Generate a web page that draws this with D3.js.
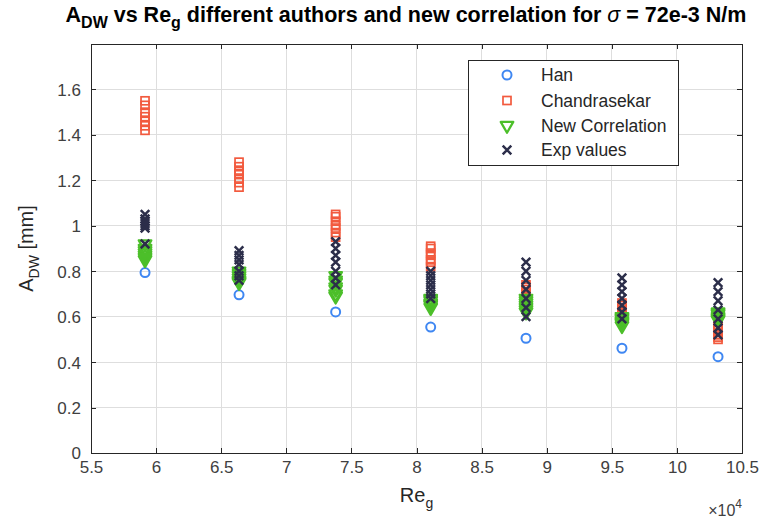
<!DOCTYPE html>
<html>
<head>
<meta charset="utf-8">
<script src="https://cdn.jsdelivr.net/npm/d3@7"></script>
<style>
  html, body { margin: 0; padding: 0; background: #fff; }
  svg { display: block; font-family: "Liberation Sans", Arial, Helvetica, sans-serif; }
</style>
</head>
<body>
<svg id="chart" width="774" height="526"></svg>
<script>
// Gas Reynolds numbers of the seven test points
const reG = [59150, 66370, 73790, 81090, 88410, 95780, 103160];

// Disturbance-wave amplitude A_DW [mm] at each Re_g
const han = [0.794, 0.696, 0.621, 0.554, 0.505, 0.461, 0.424];
const chandrasekar = [
  [1.42, 1.44, 1.46, 1.48, 1.50, 1.53, 1.55],
  [1.17, 1.19, 1.21, 1.23, 1.24, 1.26, 1.28],
  [0.95, 0.97, 0.99, 1.00, 1.02, 1.04, 1.05],
  [0.82, 0.84, 0.85, 0.87, 0.88, 0.90, 0.91],
  [0.68, 0.69, 0.70, 0.71, 0.72, 0.73, 0.74],
  [0.60, 0.61, 0.62, 0.63, 0.64, 0.65, 0.66],
  [0.50, 0.51, 0.52, 0.53, 0.54, 0.55, 0.56]
];
const newCorrelation = [
  [0.92, 0.90, 0.89, 0.88, 0.87, 0.86, 0.85],
  [0.80, 0.79, 0.78, 0.77, 0.76, 0.755, 0.75],
  [0.78, 0.76, 0.75, 0.73, 0.72, 0.70, 0.69],
  [0.68, 0.675, 0.67, 0.66, 0.655, 0.65, 0.64],
  [0.68, 0.67, 0.66, 0.65, 0.64, 0.63, 0.62],
  [0.60, 0.595, 0.59, 0.58, 0.575, 0.57, 0.56],
  [0.62, 0.615, 0.61, 0.60, 0.595, 0.59, 0.585]
];
const expValues = [
  [1.05, 1.03, 1.02, 1.01, 1.00, 0.99, 0.92],
  [0.89, 0.87, 0.85, 0.83, 0.80, 0.78, 0.76],
  [0.93, 0.90, 0.87, 0.84, 0.80, 0.77, 0.74],
  [0.80, 0.78, 0.76, 0.74, 0.72, 0.70, 0.68],
  [0.84, 0.80, 0.76, 0.72, 0.68, 0.64, 0.60],
  [0.77, 0.74, 0.71, 0.68, 0.65, 0.62, 0.59],
  [0.75, 0.71, 0.67, 0.63, 0.59, 0.55, 0.52]
];

const xTicks = [55000, 60000, 65000, 70000, 75000, 80000, 85000, 90000, 95000, 100000, 105000];
const yTicks = [0, 0.2, 0.4, 0.6, 0.8, 1.0, 1.2, 1.4, 1.6];
const seriesNames = ["Han", "Chandrasekar", "New Correlation", "Exp values"];

const colors = {
  han: "#3f87f2",
  chan: "#f25a3e",
  corr: "#4cbf2a",
  exp: "#2c2e4a"
};

const svg = d3.select("#chart");
const m = { left: 91, right: 742, top: 44, bottom: 453 };

const x = d3.scaleLinear().domain([55000, 105000]).range([m.left, m.right]);
const y = d3.scaleLinear().domain([0, 1.8]).range([m.bottom, m.top]);

// grid
const grid = svg.append("g");
grid.selectAll(".gx").data(xTicks).join("line")
  .attr("x1", d => x(d)).attr("x2", d => x(d))
  .attr("y1", m.top).attr("y2", m.bottom)
  .attr("stroke", "#dedede").attr("stroke-width", 1).attr("shape-rendering", "crispEdges");
grid.selectAll(".gy").data(yTicks.concat([1.8])).join("line")
  .attr("y1", d => y(d)).attr("y2", d => y(d))
  .attr("x1", m.left).attr("x2", m.right)
  .attr("stroke", "#dedede").attr("stroke-width", 1).attr("shape-rendering", "crispEdges");

// axes
const axisColor = "#262626";
const labelColor = "#404040";
const xAxis = svg.append("g").attr("transform", `translate(0,${m.bottom})`)
  .call(d3.axisBottom(x).tickValues(xTicks).tickSize(-5).tickPadding(8)
    .tickFormat(d => d3.format("")(d / 10000)));
const xAxisTop = svg.append("g").attr("transform", `translate(0,${m.top})`)
  .call(d3.axisTop(x).tickValues(xTicks).tickSize(-5).tickFormat(""));
const yAxis = svg.append("g").attr("transform", `translate(${m.left},0)`)
  .call(d3.axisLeft(y).tickValues(yTicks).tickSize(-5).tickPadding(10)
    .tickFormat(d => d3.format("")(d)));
const yAxisRight = svg.append("g").attr("transform", `translate(${m.right},0)`)
  .call(d3.axisRight(y).tickValues(yTicks).tickSize(-5).tickFormat(""));

[xAxis, xAxisTop, yAxis, yAxisRight].forEach(g => {
  g.select(".domain").attr("stroke", axisColor).attr("stroke-width", 1).attr("shape-rendering", "crispEdges");
  g.selectAll(".tick line").attr("stroke", axisColor).attr("shape-rendering", "crispEdges");
  g.selectAll("text").attr("fill", labelColor).attr("font-size", 17)
    .attr("font-family", "\"Liberation Sans\", Arial, sans-serif");
});
yAxis.selectAll("text").attr("dy", "0.35em");

// markers
const symTri = d3.symbol().type(d3.symbolTriangle).size(68);
function drawCircle(g, cx, cy) {
  g.append("circle").attr("cx", cx).attr("cy", cy).attr("r", 4.5)
    .attr("fill", "none").attr("stroke", colors.han).attr("stroke-width", 2);
}
function drawSquare(g, cx, cy) {
  g.append("rect").attr("x", cx - 4).attr("y", cy - 4).attr("width", 8).attr("height", 8)
    .attr("fill", "none").attr("stroke", colors.chan).attr("stroke-width", 1.7);
}
function drawTri(g, cx, cy) {
  g.append("path").attr("d", symTri())
    .attr("transform", `translate(${cx},${cy}) rotate(180)`)
    .attr("fill", "none").attr("stroke", colors.corr).attr("stroke-width", 2.3)
    .attr("stroke-linejoin", "round");
}
function drawX(g, cx, cy) {
  const s = 4.3;
  g.append("path").attr("d", `M${cx - s},${cy - s}L${cx + s},${cy + s}M${cx - s},${cy + s}L${cx + s},${cy - s}`)
    .attr("stroke", colors.exp).attr("stroke-width", 2.5).attr("fill", "none");
}

const marks = svg.append("g");
reG.forEach((r, i) => drawCircle(marks, x(r), y(han[i])));
reG.forEach((r, i) => chandrasekar[i].forEach(v => drawSquare(marks, x(r), y(v))));
reG.forEach((r, i) => newCorrelation[i].forEach(v => drawTri(marks, x(r), y(v))));
reG.forEach((r, i) => expValues[i].forEach(v => drawX(marks, x(r), y(v))));

// legend
const lg = svg.append("g");
lg.append("rect").attr("x", 468.5).attr("y", 60.5).attr("width", 210).attr("height", 105)
  .attr("fill", "#fff").attr("stroke", axisColor).attr("stroke-width", 1);
const legendY = [75, 100.5, 125.5, 150];
const drawers = [drawCircle, drawSquare, drawTri, drawX];
seriesNames.forEach((name, i) => {
  drawers[i](lg, 507, legendY[i]);
  lg.append("text").attr("x", 541).attr("y", legendY[i]).attr("dy", "0.35em")
    .attr("font-size", 17.5).attr("fill", axisColor).text(name);
});

// axis labels
const xl = svg.append("text").attr("x", x(80000)).attr("y", 502)
  .attr("text-anchor", "middle").attr("font-size", 20).attr("fill", axisColor);
xl.append("tspan").text("Re");
xl.append("tspan").attr("font-size", 14).attr("dy", 6).text("g");

const yl = svg.append("text").attr("transform", `translate(33,${y(0.9)}) rotate(-90)`)
  .attr("text-anchor", "middle").attr("font-size", 20).attr("fill", axisColor);
yl.append("tspan").text("A");
yl.append("tspan").attr("font-size", 14).attr("dy", 6).text("DW");
yl.append("tspan").attr("dy", -6).text(" [mm]");

const ex = svg.append("text").attr("x", 742).attr("y", 516)
  .attr("text-anchor", "end").attr("font-size", 16).attr("fill", labelColor);
ex.append("tspan").text("\u00d710");
ex.append("tspan").attr("font-size", 12).attr("dy", -8).text("4");

// title
const t = svg.append("text").attr("x", 406).attr("y", 22)
  .attr("text-anchor", "middle").attr("font-size", 21.5).attr("font-weight", "bold").attr("fill", "#000");
t.append("tspan").text("A");
t.append("tspan").attr("font-size", 16).attr("dy", 6).text("DW");
t.append("tspan").attr("dy", -6).text(" vs Re");
t.append("tspan").attr("font-size", 16).attr("dy", 6).text("g");
t.append("tspan").attr("dy", -6).text(" different authors and new correlation for ");
t.append("tspan").attr("font-style", "italic").attr("font-weight", "normal").text("\u03c3");
t.append("tspan").text(" = 72e-3 N/m");
</script>
</body>
</html>
